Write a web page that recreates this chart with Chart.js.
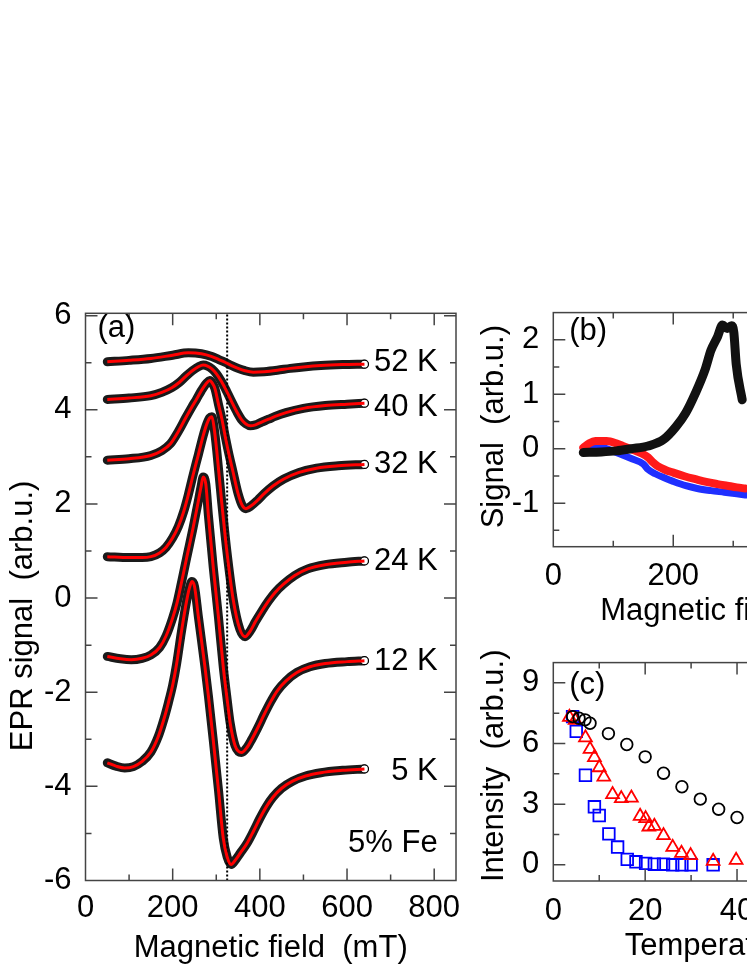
<!DOCTYPE html>
<html>
<head>
<meta charset="utf-8">
<script src="https://cdn.jsdelivr.net/npm/chart.js@4.4.0/dist/chart.umd.min.js"></script>
<style>
  html, body { margin: 0; padding: 0; background: #fff; }
  body { width: 747px; height: 967px; overflow: hidden; position: relative; }
  canvas { position: absolute; }
  #panelA { left: 0; top: 280px; }
  #panelB { left: 470px; top: 280px; }
  #panelC { left: 470px; top: 630px; }
</style>
</head>
<body>
<canvas id="panelA" width="470" height="687"></canvas>
<canvas id="panelB" width="480" height="350"></canvas>
<canvas id="panelC" width="480" height="337"></canvas>
<script>
// ---- panel (a): EPR spectra, field (mT) / signal (arb.u.) ----
const f52 = [50, 100, 150, 200, 236, 266, 290, 305, 320, 335, 350, 366, 385, 410, 440, 470, 500, 540, 590, 640]
const s52 = [5.02, 5.05, 5.09, 5.16, 5.21, 5.19, 5.13, 5.07, 5.01, 4.94, 4.88, 4.83, 4.80, 4.81, 4.84, 4.88, 4.91, 4.94, 4.96, 4.97]

const f40 = [50, 100, 150, 175, 198, 215, 230, 245, 260, 270, 280, 290, 300, 312, 324, 335, 347, 358, 368, 378, 390, 404, 420, 435, 460, 500, 550, 600, 640]
const s40 = [4.22, 4.25, 4.30, 4.37, 4.47, 4.58, 4.71, 4.83, 4.92, 4.95, 4.93, 4.87, 4.77, 4.60, 4.39, 4.18, 3.96, 3.79, 3.70, 3.66, 3.68, 3.74, 3.80, 3.86, 3.94, 4.03, 4.09, 4.12, 4.14]

const f32 = [50, 100, 150, 175, 195, 213, 230, 244, 255, 266, 278, 285, 292, 297, 305, 313, 320, 328, 338, 350, 360, 368, 380, 395, 410, 430, 455, 490, 530, 580, 640]
const s32 = [2.93, 2.96, 3.03, 3.13, 3.28, 3.54, 3.83, 4.06, 4.23, 4.41, 4.57, 4.62, 4.55, 4.45, 4.12, 3.80, 3.46, 3.10, 2.70, 2.22, 1.96, 1.90, 1.96, 2.08, 2.22, 2.38, 2.53, 2.67, 2.76, 2.81, 2.84]

const f24 = [50, 100, 130, 150, 170, 185, 200, 213, 225, 236, 247, 259, 270, 278, 285, 290, 295, 301, 312, 324, 339, 354, 366, 378, 390, 405, 420, 435, 455, 480, 510, 550, 600, 640]
const s24 = [0.88, 0.86, 0.86, 0.88, 0.96, 1.08, 1.28, 1.52, 1.83, 2.20, 2.62, 3.05, 3.45, 3.69, 3.83, 3.85, 3.62, 3.14, 2.08, 1.02, -0.04, -0.66, -0.82, -0.70, -0.50, -0.27, -0.06, 0.12, 0.30, 0.48, 0.62, 0.71, 0.76, 0.79]

const f12 = [50, 80, 105, 130, 150, 170, 185, 200, 210, 220, 232, 247, 258, 265, 270, 276, 282, 293, 305, 316, 324, 332, 343, 358, 370, 381, 395, 410, 425, 440, 460, 485, 515, 550, 600, 640]
const s12 = [-1.24, -1.29, -1.31, -1.28, -1.21, -1.05, -0.80, -0.42, -0.10, 0.32, 0.85, 1.50, 2.02, 2.36, 2.57, 2.42, 1.75, 0.66, -0.40, -1.46, -2.08, -2.66, -3.13, -3.28, -3.18, -3.01, -2.76, -2.47, -2.20, -1.97, -1.76, -1.58, -1.46, -1.39, -1.35, -1.33]

const f5 = [50, 70, 90, 110, 130, 150, 167, 180, 190, 200, 209, 220, 232, 238, 244, 250, 259, 274, 282, 293, 305, 316, 325, 334, 345, 355, 370, 385, 400, 415, 430, 450, 475, 505, 540, 590, 640]
const s5 = [-3.50, -3.57, -3.61, -3.58, -3.47, -3.27, -2.94, -2.57, -2.23, -1.85, -1.40, -0.72, -0.06, 0.20, 0.35, 0.25, -0.40, -1.46, -2.08, -3.01, -4.07, -5.10, -5.50, -5.66, -5.55, -5.42, -5.22, -4.96, -4.68, -4.43, -4.23, -4.04, -3.89, -3.78, -3.71, -3.66, -3.63]

const gFactorField = 325
const tempLabels = ['52 K', '40 K', '32 K', '24 K', '12 K', '5 K']
const tempLabelY = [4.83, 3.87, 2.65, 0.59, -1.52, -3.86]

const aFieldTicks = [0, 100, 200, 300, 400, 500, 600, 700, 800]
const aFieldLabels = [0, 200, 400, 600, 800]
const aSignalTicks = [-6, -5, -4, -3, -2, -1, 0, 1, 2, 3, 4, 5, 6]
const aSignalLabels = [-6, -4, -2, 0, 2, 4, 6]

// ---- panel (b): difference signals ----
const fBlack = [50, 80, 105, 130, 158, 184, 205, 221, 237, 253, 263, 274, 282, 290, 297, 301, 305, 315]
const sBlack = [-0.07, -0.06, -0.04, 0.00, 0.05, 0.17, 0.41, 0.66, 1.02, 1.45, 1.81, 2.06, 2.27, 2.21, 2.26, 2.14, 1.55, 0.90]
const fRed = [50, 60, 70, 89, 105, 116, 137, 150, 158, 166, 174, 187, 200, 220, 237, 255, 274, 290, 306, 320]
const sRed = [0.02, 0.10, 0.14, 0.14, 0.10, 0.05, -0.04, -0.10, -0.16, -0.25, -0.32, -0.39, -0.44, -0.51, -0.56, -0.61, -0.65, -0.68, -0.71, -0.73]
const fBlue = [50, 79, 105, 132, 150, 158, 170, 184, 200, 221, 240, 263, 285, 306, 320]
const sBlue = [-0.01, 0.02, -0.07, -0.19, -0.28, -0.38, -0.46, -0.53, -0.60, -0.68, -0.73, -0.77, -0.80, -0.83, -0.85]

const bFieldTicks = [0, 100, 200, 300, 400, 500, 600]
const bFieldLabels = [0, 200, 400, 600]
const bSignalTicks = [-1.5, -1, -0.5, 0, 0.5, 1, 1.5, 2]
const bSignalLabels = [-1, 0, 1, 2]

// ---- panel (c): intensity vs temperature ----
const tCirc = [4.2, 5.6, 6.9, 8.0, 12, 16, 20, 24, 28, 32, 36, 40]
const iCirc = [7.33, 7.25, 7.17, 7.00, 6.49, 5.95, 5.34, 4.53, 3.86, 3.25, 2.75, 2.34]
const tTri = [3.5, 4.75, 7.0, 8.0, 8.95, 10.0, 11.0, 12.9, 14.8, 17.0, 18.9, 20.1, 20.8, 22.0, 24.0, 26.0, 27.9, 29.9, 34.8, 39.8]
const iTri = [7.30, 7.15, 6.29, 5.72, 5.31, 4.81, 4.35, 3.48, 3.28, 3.31, 2.41, 2.29, 1.88, 1.91, 1.45, 0.87, 0.58, 0.46, 0.18, 0.23]
const tSq = [4.2, 5.0, 7.0, 8.95, 10.0, 12.1, 14.0, 16.1, 18.0, 20.1, 22, 24, 26, 28, 30, 34.8]
const iSq = [7.33, 6.60, 4.43, 2.87, 2.44, 1.53, 0.88, 0.27, 0.15, 0.07, 0.03, 0.03, 0.00, 0.00, 0.00, 0.00]

const cTempTicks = [0, 10, 20, 30, 40, 50, 60, 70, 80]
const cTempLabels = [0, 20, 40, 60, 80]
const cIntTicks = [0, 1.5, 3, 4.5, 6, 7.5, 9]
const cIntLabels = [0, 3, 6, 9]

const FONT = '"Liberation Sans", Arial, sans-serif'
Chart.defaults.font.family = FONT
Chart.defaults.font.size = 31
Chart.defaults.color = '#000'

const pts = (xs, ys) => xs.map((v, i) => ({ x: v, y: ys[i] }))

// frame box + inward ticks on all four sides
const frameTicks = {
  id: 'frameTicks',
  afterDatasetsDraw(chart) {
    const { ctx, chartArea: a, scales: { x, y } } = chart
    ctx.save()
    ctx.strokeStyle = '#444'
    ctx.lineWidth = 1.5
    ctx.beginPath()
    x.ticks.forEach(t => {
      if (t.value <= x.min + 1e-6 || t.value >= x.max - 1e-6) return
      const px = x.getPixelForValue(t.value)
      const len = t.label !== '' ? 12 : 6
      ctx.moveTo(px, a.bottom); ctx.lineTo(px, a.bottom - len)
      ctx.moveTo(px, a.top); ctx.lineTo(px, a.top + len)
    })
    y.ticks.forEach(t => {
      if (t.value <= y.min + 1e-6 || t.value >= y.max - 1e-6) return
      const py = y.getPixelForValue(t.value)
      const len = t.label !== '' ? 12 : 6
      ctx.moveTo(a.left, py); ctx.lineTo(a.left + len, py)
      ctx.moveTo(a.right, py); ctx.lineTo(a.right - len, py)
    })
    ctx.stroke()
    ctx.strokeRect(a.left, a.top, a.right - a.left, a.bottom - a.top)
    ctx.restore()
  }
}

// panel tag, axis titles and annotations
const panelText = {
  id: 'panelText',
  afterDraw(chart, args, o) {
    const { ctx, chartArea: a, scales: { x, y } } = chart
    ctx.save()
    ctx.fillStyle = '#000'
    ctx.font = '31px ' + FONT
    ctx.textBaseline = 'alphabetic'
    ctx.textAlign = 'left'
    ctx.fillText(o.tag, a.left + o.tagDx, a.top + o.tagDy)
    ctx.textAlign = 'center'
    ctx.fillText(o.xTitle, (a.left + a.right) / 2 + (o.xShift || 0), a.bottom + o.xTitleDy)
    ctx.save()
    ctx.translate(a.left - o.yTitleDx, (a.top + a.bottom) / 2 + o.yShift)
    ctx.rotate(-Math.PI / 2)
    ctx.fillText(o.yTitle, 0, 0)
    ctx.restore()
    ctx.textAlign = 'right'
    ;(o.notes || []).forEach(n => ctx.fillText(n.text, x.getPixelForValue(n.x), y.getPixelForValue(n.y)))
    ctx.restore()
  }
}

function axis(min, max, tickVals, labelVals, pad, fit) {
  return {
    type: 'linear', min: min, max: max,
    grid: { display: false, drawTicks: false }, border: { display: false },
    afterBuildTicks: s => { s.ticks = tickVals.map(v => ({ value: v })) },
    ticks: { autoSkip: false, maxRotation: 0, padding: pad, callback: v => labelVals.includes(v) ? String(v) : '' },
    afterFit: fit
  }
}

const common = {
  responsive: false, animation: false, devicePixelRatio: 1,
  plugins: { legend: { display: false }, tooltip: { enabled: false } }
}

// ---------- panel (a) ----------
const spectra = [[f52, s52], [f40, s40], [f32, s32], [f24, s24], [f12, s12], [f5, s5]]
const dsA = []
spectra.forEach(([f, s]) => {
  dsA.push({
    data: pts(f, s), borderColor: '#1a1a1a', borderWidth: 9, borderCapStyle: 'round',
    cubicInterpolationMode: 'monotone', order: 3,
    pointRadius: c => c.dataIndex === f.length - 1 ? 4 : 0,
    pointBackgroundColor: '#fff', pointBorderColor: '#000', pointBorderWidth: 1.2
  })
  dsA.push({
    data: pts(f, s), borderColor: '#ff0000', borderWidth: 3,
    cubicInterpolationMode: 'monotone', pointRadius: 0, order: 1
  })
})
dsA.push({
  data: [{ x: gFactorField, y: -6 }, { x: gFactorField, y: 6.05 }],
  borderColor: '#000', borderWidth: 2, borderDash: [2, 2], pointRadius: 0, order: 2
})

new Chart(document.getElementById('panelA'), {
  type: 'line',
  data: { datasets: dsA },
  options: {
    ...common,
    layout: { padding: { top: 33.3, right: 14, left: 0, bottom: 0 } },
    scales: {
      x: axis(0, 850, aFieldTicks, aFieldLabels, 9, s => { s.height = 86.5 }),
      y: axis(-6, 6.05, aSignalTicks, aSignalLabels, 14, s => { s.width = 85.5 })
    },
    plugins: {
      ...common.plugins,
      panelText: {
        tag: '(a)', tagDx: 12, tagDy: 24,
        xTitle: 'Magnetic field  (mT)', xTitleDy: 76,
        yTitle: 'EPR signal  (arb.u.)', yTitleDx: 54, yShift: 19,
        notes: tempLabels.map((t, i) => ({ text: t, x: 808, y: tempLabelY[i] }))
          .concat([{ text: '5% Fe', x: 808, y: -5.40 }])
      }
    }
  },
  plugins: [frameTicks, panelText]
})

// ---------- panel (b) ----------
new Chart(document.getElementById('panelB'), {
  type: 'line',
  data: {
    datasets: [
      { data: pts(fBlack, sBlack), borderColor: '#111', borderWidth: 9, borderCapStyle: 'round', cubicInterpolationMode: 'monotone', pointRadius: 0, order: 0 },
      { data: pts(fRed, sRed), borderColor: '#ff1a1a', borderWidth: 8, borderCapStyle: 'round', cubicInterpolationMode: 'monotone', pointRadius: 0, order: 1 },
      { data: pts(fBlue, sBlue), borderColor: '#1f2fff', borderWidth: 7, borderCapStyle: 'round', cubicInterpolationMode: 'monotone', pointRadius: 0, order: 2 }
    ]
  },
  options: {
    ...common,
    layout: { padding: { top: 32, right: 16.7, left: 0, bottom: 0 } },
    scales: {
      x: axis(0, 600, bFieldTicks, bFieldLabels, 11, s => { s.height = 83.3 }),
      y: axis(-1.8, 2.5, bSignalTicks, bSignalLabels, 14, s => { s.width = 83.3 })
    },
    plugins: {
      ...common.plugins,
      panelText: {
        tag: '(b)', tagDx: 16, tagDy: 27,
        xTitle: 'Magnetic field  (mT)', xTitleDy: 73.5, xShift: 4,
        yTitle: 'Signal  (arb.u.)', yTitleDx: 50, yShift: -3
      }
    }
  },
  plugins: [frameTicks, panelText]
})

// ---------- panel (c) ----------
new Chart(document.getElementById('panelC'), {
  type: 'scatter',
  data: {
    datasets: [
      { data: pts(tCirc, iCirc), pointStyle: 'circle', pointRadius: 5.8, borderColor: '#000', backgroundColor: 'rgba(0,0,0,0)', pointBorderWidth: 1.8 },
      { data: pts(tTri, iTri), pointStyle: 'triangle', pointRadius: 7.4, borderColor: '#ff0000', backgroundColor: 'rgba(0,0,0,0)', pointBorderWidth: 1.8 },
      { data: pts(tSq, iSq), pointStyle: 'rect', pointRadius: 8.2, borderColor: '#0000ff', backgroundColor: 'rgba(0,0,0,0)', pointBorderWidth: 1.8 }
    ]
  },
  options: {
    ...common,
    layout: { padding: { top: 15.7, right: 16.7, left: 0, bottom: 0 } },
    scales: {
      x: axis(0, 80, cTempTicks, cTempLabels, 12, s => { s.height = 86 }),
      y: axis(-0.8, 10, cIntTicks, cIntLabels, 14, s => { s.width = 83.3 })
    },
    plugins: {
      ...common.plugins,
      panelText: {
        tag: '(c)', tagDx: 16, tagDy: 31,
        xTitle: 'Temperature  (K)', xTitleDy: 74, xShift: 4,
        yTitle: 'Intensity  (arb.u.)', yTitleDx: 50, yShift: -6
      }
    }
  },
  plugins: [frameTicks, panelText]
})
</script>
</body>
</html>
